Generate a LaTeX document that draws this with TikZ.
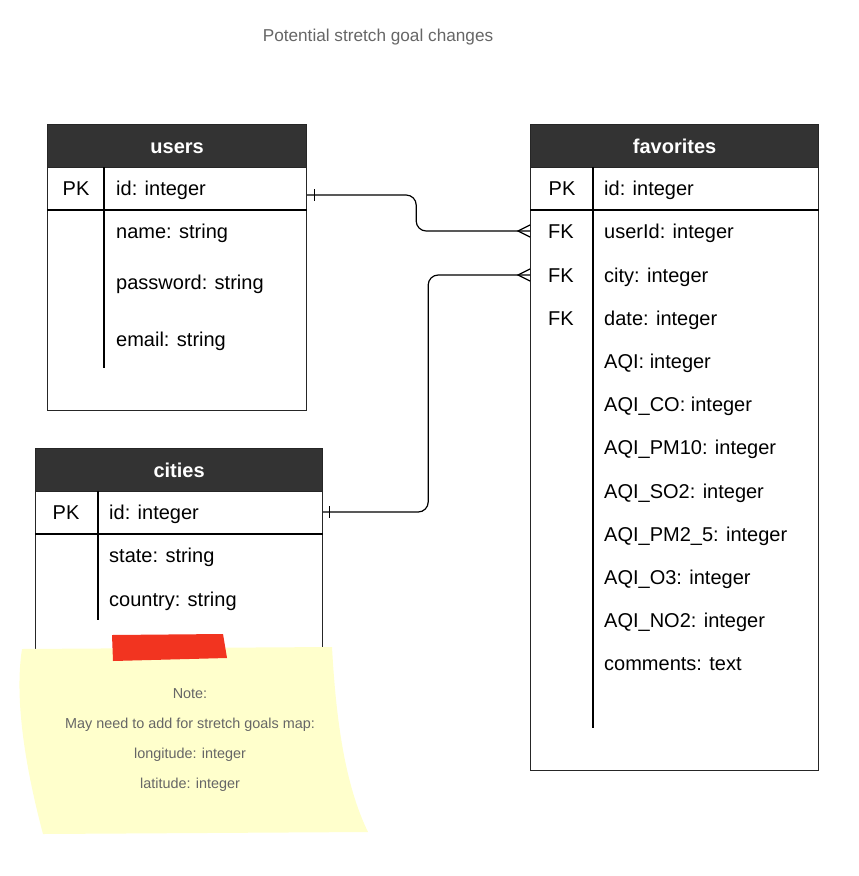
\documentclass[tikz,border=0pt]{standalone}
\usepackage{fontspec}
\setmainfont{Liberation Sans}
\usepackage{xcolor}
\usepackage{tikz}
\usetikzlibrary{calc}

\definecolor{hdrgray}{HTML}{333333}
\definecolor{notefill}{HTML}{FFFFCC}
\definecolor{tapered}{HTML}{F23420}
\definecolor{txtgray}{HTML}{666666}

\begin{document}
\begin{tikzpicture}[
  x=1pt, y=-1pt,
  tbl/.style={
    draw=black!85,
    line width=1.2pt,
    fill=white,
    anchor=north west,
    inner sep=0pt
  },
  hdr/.style={
    tbl,
    fill=hdrgray,
    text=white,
    minimum height=43pt,
    text height=14pt,
    text depth=0pt,
    font=\fontsize{20}{24}\selectfont\bfseries
  },
  key/.style={
    inner sep=0pt,
    text height=14pt,
    text depth=0pt,
    font=\fontsize{20}{24}\selectfont
  },
  fld/.style={key, anchor=west},
  rowsep/.style={line width=2pt, black},
  coldiv/.style={line width=1.2pt, black},
  rel/.style={line width=1.2pt, black, rounded corners=10pt},
  relend/.style={line width=1.2pt, black},
  notetxt/.style={
    align=center,
    text=txtgray,
    font=\fontsize{14.4}{29.7}\selectfont
  }
]
  \path[fill=white, use as bounding box] (0,0) rectangle (859,876);

  % Title
  \node[font=\fontsize{17.2}{20}\selectfont, text=txtgray] (title) at (378,37)
    {Potential stretch goal changes};

  % users table
  \node[tbl, minimum width=259pt, minimum height=286pt] (users) at (47,124) {};
  \node[hdr, minimum width=259pt] (usershd) at (47,124) {users};
  \node[key] (userspk) at (76,188) {PK};
  \node[fld] (usersid) at (116,188) {id: integer};
  \node[fld] (usersname) at (116,231) {name: string};
  \node[fld] (userspw) at (116,282) {password: string};
  \node[fld] (usersmail) at (116,339) {email: string};
  \draw[rowsep] (users.west |- 0,210) -- (users.east |- 0,210);
  \draw[coldiv] (104,167) -- (104,368);

  % favorites table
  \node[tbl, minimum width=288pt, minimum height=646pt] (favorites) at (530,124) {};
  \node[hdr, minimum width=288pt] (favhd) at (530,124) {favorites};
  \node[key] (favpk) at (562,188) {PK};
  \node[fld] (favid) at (604,188) {id: integer};
  \node[key] (favfk1) at (561,231) {FK};
  \node[fld] (favuid) at (604,231) {userId: integer};
  \node[key] (favfk2) at (561,275) {FK};
  \node[fld] (favcity) at (604,275) {city: integer};
  \node[key] (favfk3) at (561,318) {FK};
  \node[fld] (favdate) at (604,318) {date: integer};
  \node[fld] (favaqi) at (604,361) {AQI: integer};
  \node[fld] (favco) at (604,404) {AQI\_CO: integer};
  \node[fld] (favpmten) at (604,447) {AQI\_PM10: integer};
  \node[fld] (favso) at (604,491) {AQI\_SO2: integer};
  \node[fld] (favpmtwo) at (604,534) {AQI\_PM2\_5: integer};
  \node[fld] (favo) at (604,577) {AQI\_O3: integer};
  \node[fld] (favno) at (604,620) {AQI\_NO2: integer};
  \node[fld] (favcmt) at (604,663) {comments: text};
  \draw[rowsep] (favorites.west |- 0,210) -- (favorites.east |- 0,210);
  \draw[coldiv] (593,167) -- (593,728);

  % cities table (bottom hidden by the note)
  \node[tbl, minimum width=287pt, minimum height=212pt] (cities) at (35,448) {};
  \node[hdr, minimum width=287pt] (citieshd) at (35,448) {cities};
  \node[key] (citiespk) at (66,512) {PK};
  \node[fld] (citiesid) at (109,512) {id: integer};
  \node[fld] (citiesstate) at (109,555) {state: string};
  \node[fld] (citiescountry) at (109,599) {country: string};
  \draw[rowsep] (cities.west |- 0,534) -- (cities.east |- 0,534);
  \draw[coldiv] (98,491) -- (98,620);

  % Relations
  \coordinate (uport) at ($(users.east |- usersid.west)+(0,7)$);
  \coordinate (fuport) at (favorites.west |- favuid.west);
  \coordinate (cport) at (cities.east |- citiesid.west);
  \coordinate (fcport) at (favorites.west |- favcity.west);

  \draw[rel] (uport) -- ++(109,0) |- (fuport);
  \draw[relend] ($(uport)+(7,-6)$) -- ++(0,12);
  \draw[relend] ($(fuport)+(0,-6)$) -- ($(fuport)+(-12,0)$) -- ($(fuport)+(0,6)$);

  \draw[rel] (cport) -- ++(105,0) |- (fcport);
  \draw[relend] ($(cport)+(6,-6)$) -- ++(0,12);
  \draw[relend] ($(fcport)+(0,-6)$) -- ($(fcport)+(-12,0)$) -- ($(fcport)+(0,6)$);

  % Sticky note
  \fill[notefill] (22,649) -- (332,647)
    .. controls (336,720) and (345,785) .. (368,832)
    -- (43,834) .. controls (26,770) and (14,700) .. cycle;
  \fill[tapered] (112,635) -- (223,634) -- (227,658) -- (113,661) -- cycle;
  \node[notetxt] (notetext) at (190,740)
    {Note:\\May need to add for stretch goals map:\\longitude: integer\\latitude: integer};
\end{tikzpicture}
\end{document}
